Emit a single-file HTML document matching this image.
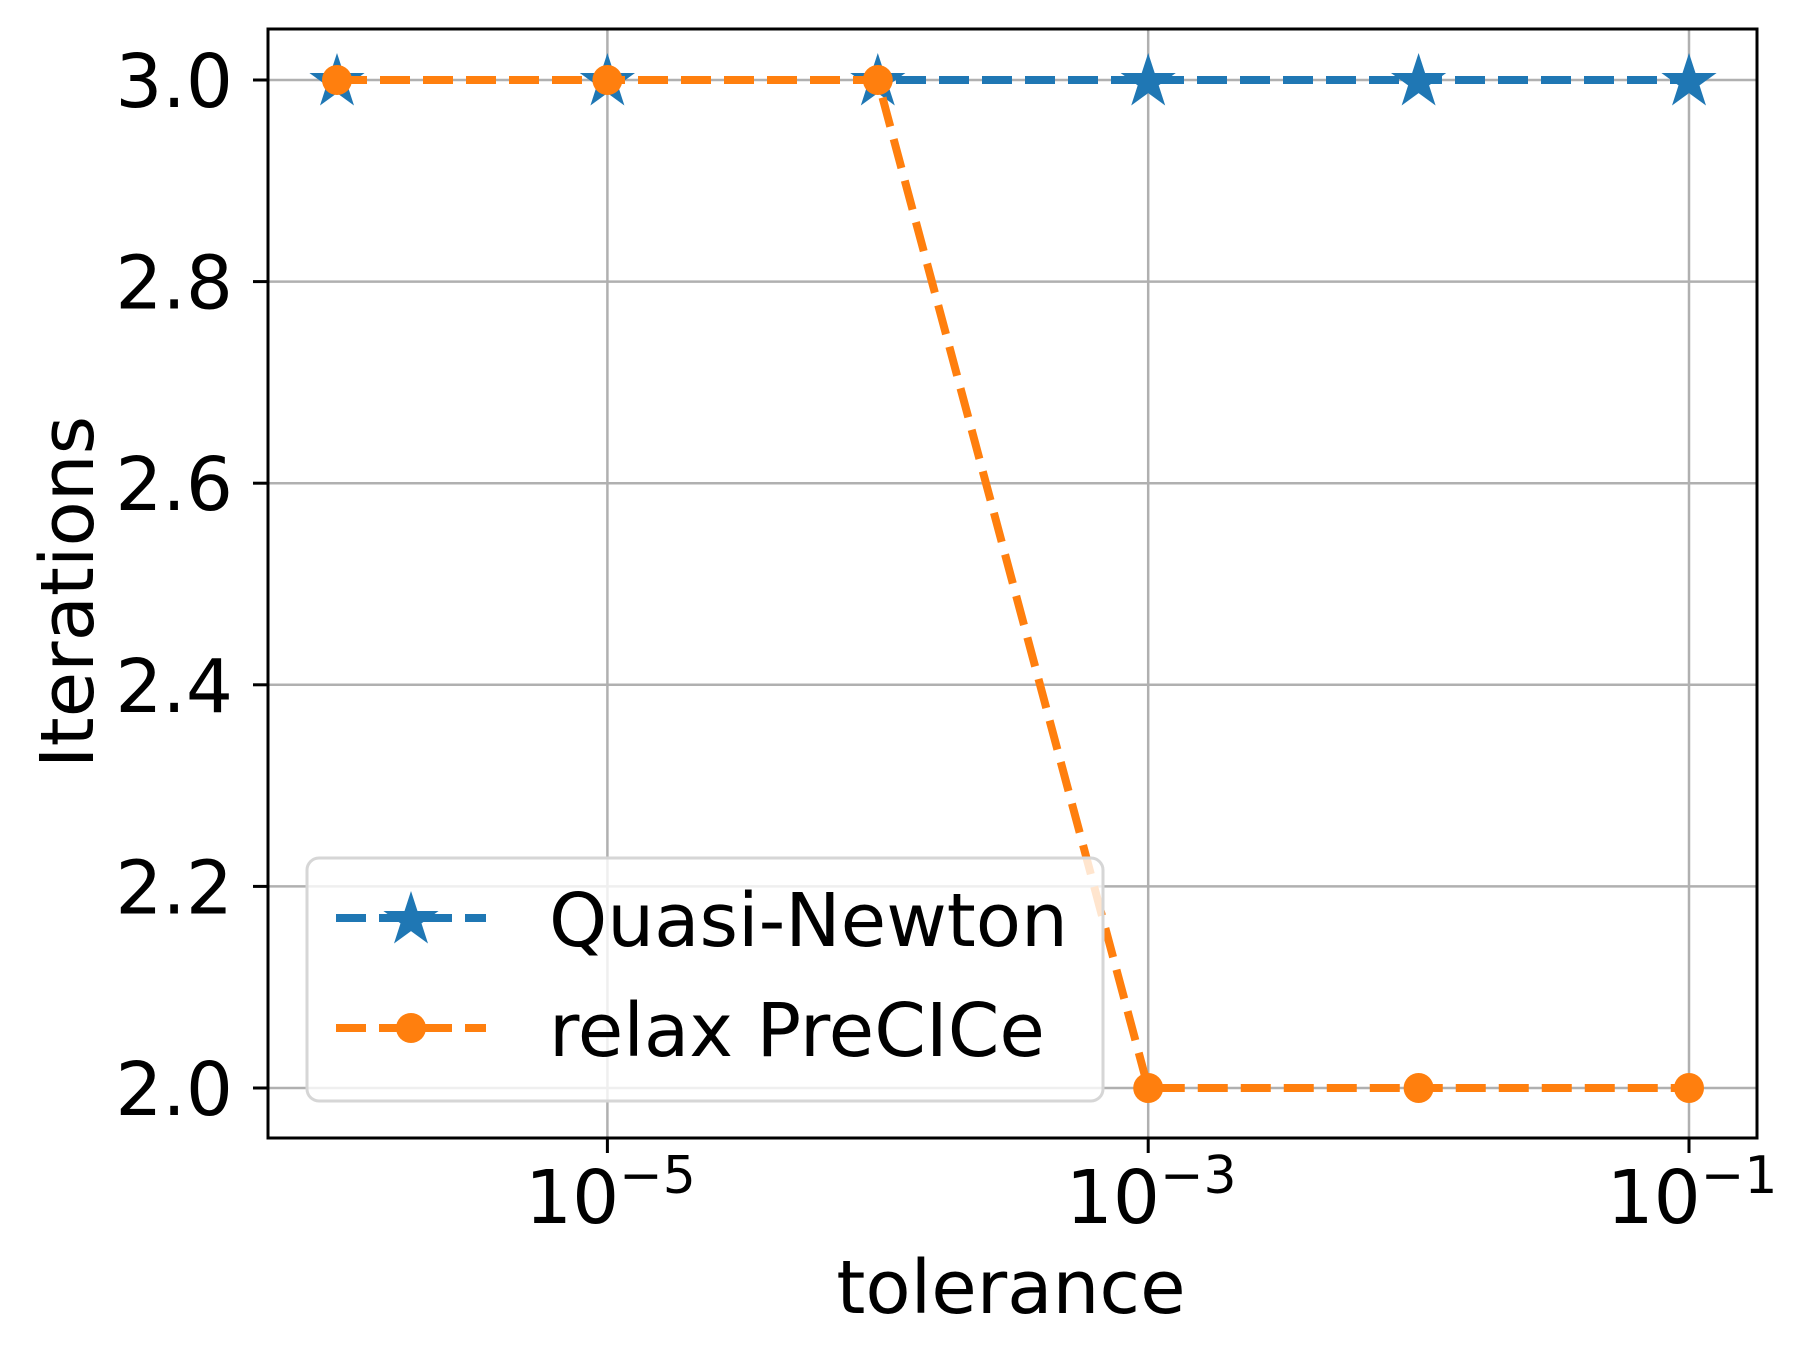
<!DOCTYPE html>
<html><head><meta charset="utf-8"><style>
html,body{margin:0;padding:0;background:#fff}
svg{display:block}
text{font-family:"DejaVu Sans","Liberation Sans",sans-serif;fill:#000}
</style></head><body>
<svg id="chart" width="1803" height="1360" viewBox="0 0 1803 1360" xmlns="http://www.w3.org/2000/svg">
<rect x="0" y="0" width="1803" height="1360" fill="#fff"/>
<g id="grid"></g>
<g id="series"></g>
<rect x="268" y="29" width="1489" height="1109" fill="none" stroke="#000" stroke-width="3"/>
<g id="ticks"></g>
<text x="1011" y="1313" font-size="74" text-anchor="middle">tolerance</text>
<text transform="translate(93,592) rotate(-90)" font-size="74" text-anchor="middle">Iterations</text>
<g>
<rect x="307" y="858" width="796" height="243" rx="12" fill="#fff" fill-opacity="0.8" stroke="#d6d6d6" stroke-width="3"/>
<g>
<line x1="336" y1="918" x2="486" y2="918" stroke="#1f77b4" stroke-width="8" stroke-dasharray="30,13"/>
<path id="legstar" fill="#1f77b4"/>
<text x="549" y="946" font-size="74">Quasi-Newton</text>
</g>
<g>
<line x1="336" y1="1028" x2="486" y2="1028" stroke="#ff7f0e" stroke-width="8" stroke-dasharray="30,13"/>
<circle cx="411" cy="1028" r="15" fill="#ff7f0e"/>
<text x="549" y="1056" font-size="74">relax PreCICe</text>
</g>
</g>
</svg>
<script>
const tolerances = [1e-6, 1e-5, 1e-4, 1e-3, 1e-2, 1e-1];
const quasiNewton = [3, 3, 3, 3, 3, 3];
const relaxPrecice = [3, 3, 3, 2, 2, 2];
const yTicks = [2.0, 2.2, 2.4, 2.6, 2.8, 3.0];
const xTickExps = [-5, -3, -1];

const NS = 'http://www.w3.org/2000/svg';
const L = 268, R = 1757, T = 29, B = 1138;
function xs(v){ return 337 + (Math.log10(v) + 6) * 270.4; }
function ys(v){ return 1088 - (v - 2) * 1008; }
function mk(tag, attrs, parent){
  const e = document.createElementNS(NS, tag);
  for (const k in attrs) e.setAttribute(k, attrs[k]);
  parent.appendChild(e); return e;
}
function starPath(cx, cy, ro){
  const ri = ro * 0.382; let d = '';
  for (let i = 0; i < 10; i++){
    const r = i % 2 ? ri : ro, a = -Math.PI/2 + i * Math.PI/5;
    d += (i ? 'L' : 'M') + (cx + r*Math.cos(a)).toFixed(1) + ',' + (cy + r*Math.sin(a)).toFixed(1);
  }
  return d + 'Z';
}
document.getElementById('legstar').setAttribute('d', starPath(411, 920, 29));
const grid = document.getElementById('grid'), ticks = document.getElementById('ticks'), series = document.getElementById('series');

yTicks.forEach(v => {
  const y = ys(v);
  const g = mk('line', {x1:L, x2:R, y1:y, y2:y, stroke:'#b0b0b0', 'stroke-width':2.5}, grid);
  
  
  const t = mk('line', {x1:L-15, x2:L, y1:y, y2:y, stroke:'#000', 'stroke-width':3}, ticks);
  
  
  const lb = mk('text', {x:233, y:y+27, 'font-size':74, 'text-anchor':'end'}, ticks);
  lb.textContent = v.toFixed(1);
  
  
});
xTickExps.forEach(e => {
  const x = xs(Math.pow(10, e));
  const g = mk('line', {x1:x, x2:x, y1:T, y2:B, stroke:'#b0b0b0', 'stroke-width':2.5}, grid);
  
  
  const t = mk('line', {x1:x, x2:x, y1:B, y2:B+15, stroke:'#000', 'stroke-width':3}, ticks);
  
  
  const lb = mk('text', {x:x+3, y:1223, 'font-size':74, 'text-anchor':'middle'}, ticks);
  
  
  const a = mk('tspan', {}, lb); a.textContent = '10';
  const b = mk('tspan', {'font-size':52, dy:-30}, lb); b.textContent = '\u2212' + Math.abs(e);
});

function drawSeries(vals, color, name, marker){
  const pts = tolerances.map((t, i) => xs(t) + ',' + ys(vals[i])).join(' ');
  const pl = mk('polyline', {points:pts, fill:'none', stroke:color, 'stroke-width':8, 'stroke-dasharray':'30,13', 'stroke-linejoin':'round'}, series);
  
  
  tolerances.forEach((t, i) => {
    let m;
    if (marker === 'star') m = mk('path', {d:starPath(xs(t), ys(vals[i]) + 2, 29), fill:color}, series);
    else m = mk('circle', {cx:xs(t), cy:ys(vals[i]), r:15, fill:color}, series);
    
    
  });
}
drawSeries(quasiNewton, '#1f77b4', 'quasi-newton', 'star');
drawSeries(relaxPrecice, '#ff7f0e', 'relax-precice', 'circle');
</script>
</body></html>
